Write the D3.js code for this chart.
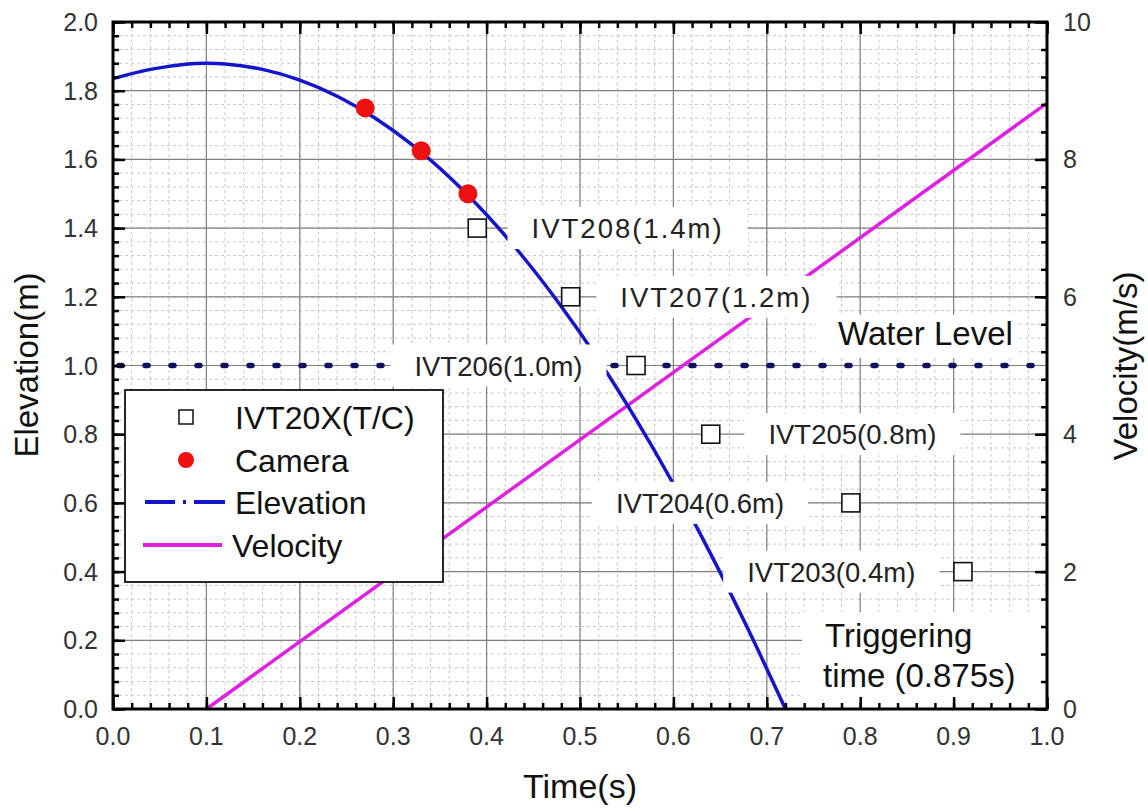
<!DOCTYPE html>
<html><head><meta charset="utf-8">
<script src="https://cdn.jsdelivr.net/npm/d3@7"></script>
<style>
body{margin:0;background:#fff;}
text{font-family:"Liberation Sans",Arial,sans-serif;}
</style></head>
<body><svg id="c" width="1148" height="809"></svg>
<script>
// ---- data ----
const elevationT = [0,0.04,0.08,0.10,0.12,0.16,0.20,0.24,0.28,0.32,0.36,0.40,0.44,0.48,0.52,0.56,0.60,0.64,0.68,0.72];
const elevationY = [1.835,1.862,1.878,1.880,1.878,1.862,1.831,1.784,1.721,1.643,1.549,1.439,1.313,1.172,1.016,0.843,0.655,0.451,0.232,0.0];
const velocityT = [0.1,1.0];
const velocityV = [0.0,8.82];
const cameraT = [0.27,0.33,0.38];
const cameraY = [1.75,1.625,1.5];
const ivtNames = ["IVT208(1.4m)","IVT207(1.2m)","IVT206(1.0m)","IVT205(0.8m)","IVT204(0.6m)","IVT203(0.4m)"];
const ivtT = [0.39,0.49,0.56,0.64,0.79,0.91];
const ivtY = [1.4,1.2,1.0,0.8,0.6,0.4];
const ivtLabelT = [0.551,0.646,0.4127,0.7917,0.6285,0.769];
const waterLevel = 1.0;
const xTicks = [0,0.1,0.2,0.3,0.4,0.5,0.6,0.7,0.8,0.9,1.0];
const yTicks = [0,0.2,0.4,0.6,0.8,1.0,1.2,1.4,1.6,1.8,2.0];
const y2Ticks = [0,2,4,6,8,10];
const legendLabels = ["IVT20X(T/C)","Camera","Elevation","Velocity"];

// ---- styles ----
const ivtLetterSpacing = [2,2,0,0,0,0];

// ---- layout ----
const L=113, R=1047, T=22, B=709;
const svg = d3.select("#c");
const x = d3.scaleLinear().domain([0,1]).range([L,R]);
const y = d3.scaleLinear().domain([0,2]).range([B,T]);
const y2 = d3.scaleLinear().domain([0,10]).range([B,T]);

// minor grid
const xMinor = d3.range(0,1.0001,0.02), yMinor = d3.range(0,2.0001,0.04);
const g = svg.append("g");
g.selectAll(".mx").data(xMinor).join("line").attr("x1",d=>x(d)).attr("x2",d=>x(d)).attr("y1",T).attr("y2",B)
  .attr("stroke","#c8c8c8").attr("stroke-width",1).attr("stroke-dasharray","3,3");
g.selectAll(".my").data(yMinor).join("line").attr("y1",d=>y(d)).attr("y2",d=>y(d)).attr("x1",L).attr("x2",R)
  .attr("stroke","#c8c8c8").attr("stroke-width",1).attr("stroke-dasharray","3,3");
// major grid
g.selectAll(".Mx").data(xTicks).join("line").attr("x1",d=>x(d)).attr("x2",d=>x(d)).attr("y1",T).attr("y2",B)
  .attr("stroke","#808080").attr("stroke-width",1.2);
g.selectAll(".My").data(yTicks).join("line").attr("y1",d=>y(d)).attr("y2",d=>y(d)).attr("x1",L).attr("x2",R)
  .attr("stroke","#808080").attr("stroke-width",1.2);

// velocity
const vData = velocityT.map((t,i)=>[t,velocityV[i]]);
svg.append("path").datum(vData).attr("d",d3.line().x(d=>x(d[0])).y(d=>y2(d[1])))
  .attr("fill","none").attr("stroke","#e020e0").attr("stroke-width",3.5);
// elevation
const eData = elevationT.map((t,i)=>[t,elevationY[i]]);
svg.append("path").datum(eData).attr("d",d3.line().curve(d3.curveCatmullRom).x(d=>x(d[0])).y(d=>y(d[1])))
  .attr("fill","none").attr("stroke","#1414cc").attr("stroke-width",3.5);
// water level
svg.append("line").attr("x1",x(0)).attr("x2",x(1)).attr("y1",y(waterLevel)).attr("y2",y(waterLevel))
  .attr("stroke","#10105e").attr("stroke-width",5.5).attr("stroke-linecap","round")
  .attr("stroke-dasharray","3,23").attr("stroke-dashoffset",-6);

// label boxes + text
const labG = svg.append("g");
ivtNames.forEach((n,i)=>{
  const t = labG.append("text").attr("x",x(ivtLabelT[i])).attr("y",y(ivtY[i])+10)
    .attr("text-anchor","middle").attr("font-size",27.5).attr("letter-spacing",ivtLetterSpacing[i])
    .attr("fill","#222").text(n);
  const bb = t.node().getBBox();
  labG.insert("rect","text").attr("x",bb.x-24).attr("y",y(ivtY[i])-21).attr("width",bb.width+48).attr("height",42).attr("fill","#fff");
});
// water level label
{
  const t = labG.append("text").attr("x",838).attr("y",345).attr("font-size",33).attr("fill","#111").text("Water Level");
  const bb = t.node().getBBox();
  labG.insert("rect","text").attr("x",bb.x-22).attr("y",bb.y).attr("width",bb.width+28).attr("height",358-bb.y).attr("fill","#fff");
}
// triggering label
{
  labG.insert("rect","text").attr("x",802).attr("y",612).attr("width",R-802).attr("height",B-612).attr("fill","#fff");
  labG.append("text").attr("x",825).attr("y",647).attr("font-size",33).attr("fill","#111").text("Triggering");
  labG.append("text").attr("x",823).attr("y",687).attr("font-size",33).attr("fill","#111").text("time (0.875s)");
}

// IVT squares
svg.selectAll(".sq").data(ivtT.map((t,i)=>[t,ivtY[i]])).join("rect")
  .attr("x",d=>x(d[0])-9).attr("y",d=>y(d[1])-9).attr("width",18).attr("height",18)
  .attr("fill","#fff").attr("stroke","#111").attr("stroke-width",1.6);
// camera
svg.selectAll(".cam").data(cameraT.map((t,i)=>[t,cameraY[i]])).join("circle")
  .attr("cx",d=>x(d[0])).attr("cy",d=>y(d[1])).attr("r",9.5).attr("fill","#ee1111");

// axes with inward ticks
function ticks(scale, vals, orient, len){
  return (orient==="bottom"?d3.axisBottom:orient==="top"?d3.axisTop:orient==="left"?d3.axisLeft:d3.axisRight)(scale)
    .tickValues(vals).tickSize(-len).tickFormat("");
}
const axW = 2.5;
function addAxis(axis, tr){
  const gg = svg.append("g").attr("transform",tr).call(axis);
  gg.select(".domain").remove();
  gg.selectAll(".tick line").attr("stroke","#000").attr("stroke-width",axW);
  return gg;
}
const y2Minor = d3.range(0,10.0001,0.4);
addAxis(ticks(x,xMinor,"bottom",6),`translate(0,${B})`);
addAxis(ticks(x,xTicks,"bottom",12),`translate(0,${B})`);
addAxis(ticks(x,xMinor,"top",6),`translate(0,${T})`);
addAxis(ticks(x,xTicks,"top",12),`translate(0,${T})`);
addAxis(ticks(y,yMinor,"left",6),`translate(${L},0)`);
addAxis(ticks(y,yTicks,"left",12),`translate(${L},0)`);
addAxis(ticks(y2,y2Minor,"right",6),`translate(${R},0)`);
addAxis(ticks(y2,y2Ticks,"right",12),`translate(${R},0)`);
svg.append("rect").attr("x",L).attr("y",T).attr("width",R-L).attr("height",B-T)
  .attr("fill","none").attr("stroke","#000").attr("stroke-width",3);

// tick labels
const f1 = d3.format(".1f");
svg.selectAll(".xl").data(xTicks).join("text").attr("x",d=>x(d)).attr("y",745)
  .attr("text-anchor","middle").attr("font-size",25).attr("fill","#333").text(d=>f1(d));
svg.selectAll(".yl").data(yTicks).join("text").attr("x",98).attr("y",d=>y(d)+9)
  .attr("text-anchor","end").attr("font-size",25).attr("fill","#333").text(d=>f1(d));
svg.selectAll(".y2l").data(y2Ticks).join("text").attr("x",1063).attr("y",d=>y2(d)+9)
  .attr("text-anchor","start").attr("font-size",25).attr("fill","#333").text(d=>d);

// axis titles
svg.append("text").attr("x",580).attr("y",798).attr("text-anchor","middle").attr("font-size",34).attr("fill","#111").text("Time(s)");
svg.append("text").attr("transform","translate(38,365) rotate(-90)").attr("text-anchor","middle").attr("font-size",33).attr("fill","#111").text("Elevation(m)");
svg.append("text").attr("transform","translate(1137,366) rotate(-90)").attr("text-anchor","middle").attr("font-size",33).attr("fill","#111").text("Velocity(m/s)");

// legend
const lg = svg.append("g");
lg.append("rect").attr("x",125).attr("y",390).attr("width",318).attr("height",192).attr("fill","#fff").attr("stroke","#111").attr("stroke-width",1.8);
const rowY = [417,460,502,545];
lg.append("rect").attr("x",179).attr("y",rowY[0]-7).attr("width",14).attr("height",14).attr("fill","#fff").attr("stroke","#111").attr("stroke-width",1.5);
lg.append("circle").attr("cx",186).attr("cy",rowY[1]).attr("r",8).attr("fill","#ee1111");
lg.append("line").attr("x1",145).attr("x2",225).attr("y1",rowY[2]).attr("y2",rowY[2]).attr("stroke","#1414cc").attr("stroke-width",4)
  .attr("stroke-dasharray","30,8,3,8,31");
lg.append("line").attr("x1",143).attr("x2",222).attr("y1",rowY[3]).attr("y2",rowY[3]).attr("stroke","#e020e0").attr("stroke-width",4);
lg.selectAll(".lt").data(legendLabels).join("text").attr("x",(d,i)=>i===3?232:235).attr("y",(d,i)=>rowY[i]+12)
  .attr("font-size",32).attr("fill","#111").text(d=>d);
</script></body></html>
